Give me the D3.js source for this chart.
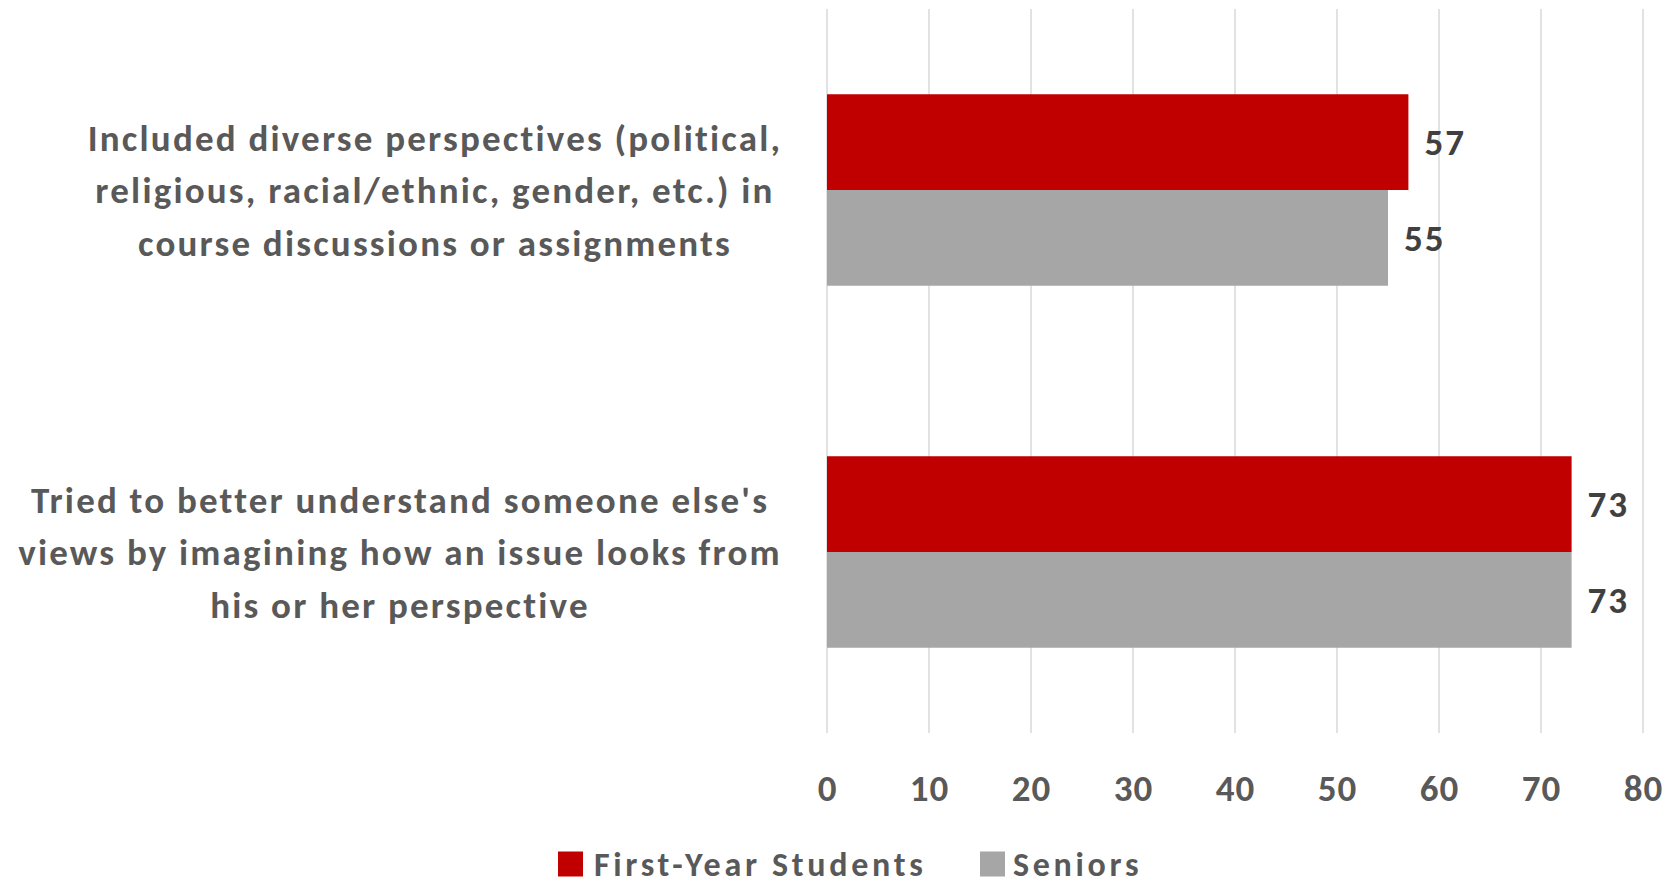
<!DOCTYPE html>
<html>
<head>
<meta charset="utf-8">
<script src="https://cdn.jsdelivr.net/npm/d3@7"></script>
<style>
  html, body { margin: 0; padding: 0; background: #ffffff; }
  svg { display: block; }
  text { font-family: Carlito, Lato, "Open Sans", sans-serif; font-weight: 700; }
</style>
</head>
<body>
<svg id="chart" width="1677" height="879"></svg>
<script>
// Survey items (each label is split into its display lines)
const categories = [
  "Included diverse perspectives (political, religious, racial/ethnic, gender, etc.) in course discussions or assignments",
  "Tried to better understand someone else's views by imagining how an issue looks from his or her perspective"
];
const categoryLines = [
  ["Included diverse perspectives (political,", "religious, racial/ethnic, gender, etc.) in", "course discussions or assignments"],
  ["Tried to better understand someone else's", "views by imagining how an issue looks from", "his or her perspective"]
];
const seriesNames = ["First-Year Students", "Seniors"];
const firstYear = [57, 73];
const seniors = [55, 73];
const tickValues = [0, 10, 20, 30, 40, 50, 60, 70, 80];
const colors = ["#c00000", "#a6a6a6"];

const seriesValues = [firstYear, seniors];
const rows = categories.map((c, i) => ({
  category: c,
  values: seriesNames.map((s, j) => ({ series: s, value: seriesValues[j][i] }))
}));

const svg = d3.select("#chart");

const plot = { left: 827, right: 1643, top: 9, bottom: 733 };

const x = d3.scaleLinear().domain([0, 80]).range([plot.left, plot.right]);
const y0 = d3.scaleBand().domain(categories).range([plot.top, plot.bottom])
  .paddingInner(0.471).paddingOuter(0.2355);
const y1 = d3.scaleBand().domain(seriesNames).range([0, y0.bandwidth()]);
const color = d3.scaleOrdinal().domain(seriesNames).range(colors);

// Vertical gridlines
svg.append("g")
  .selectAll("line")
  .data(tickValues)
  .join("line")
  .attr("x1", d => x(d)).attr("x2", d => x(d))
  .attr("y1", plot.top).attr("y2", plot.bottom)
  .attr("stroke", "#d9d9d9")
  .attr("stroke-width", 1.5);

// X axis tick labels
const xAxis = d3.axisBottom(x).tickValues(tickValues).tickSize(0).tickPadding(0);
const gx = svg.append("g")
  .attr("transform", `translate(0, ${plot.bottom})`)
  .call(xAxis);
gx.select(".domain").remove();
gx.selectAll("text")
  .attr("y", 55)
  .attr("dy", "0.36em")
  .attr("fill", "#595959")
  .style("font-size", "37px")
  .style("letter-spacing", "1px")
  .style("font-family", "Carlito, Lato, 'Open Sans', sans-serif")
  .style("font-weight", 700);

// Bars
const groups = svg.append("g")
  .selectAll("g")
  .data(rows)
  .join("g")
  .attr("transform", d => `translate(0, ${y0(d.category)})`);

groups.selectAll("rect")
  .data(d => d.values)
  .join("rect")
  .attr("x", x(0))
  .attr("y", d => y1(d.series))
  .attr("width", d => x(d.value) - x(0))
  .attr("height", y1.bandwidth())
  .attr("fill", d => color(d.series));

// Value labels
groups.selectAll("text.value")
  .data(d => d.values)
  .join("text")
  .attr("class", "value")
  .attr("x", d => x(d.value) + 16)
  .attr("y", d => y1(d.series) + y1.bandwidth() / 2)
  .attr("dy", "0.36em")
  .attr("fill", "#404040")
  .style("font-size", "37px")
  .style("letter-spacing", "2px")
  .text(d => d.value);

// Category labels, centred line by line to the left of the axis
const labelCenters = [435, 400];
const lineGap = 52.4;
svg.append("g")
  .selectAll("text")
  .data(categories)
  .join("text")
  .attr("text-anchor", "middle")
  .attr("fill", "#595959")
  .style("font-size", "37px")
  .style("letter-spacing", "2.2px")
  .each(function (d, i) {
    const lines = categoryLines[i];
    const cy = y0(d) + y0.bandwidth() / 2;
    d3.select(this).selectAll("tspan")
      .data(lines)
      .join("tspan")
      .attr("x", labelCenters[i])
      .attr("y", (l, k) => cy + (k - (lines.length - 1) / 2) * lineGap)
      .attr("dy", "0.36em")
      .text(l => l);
  });

// Legend
const legendItems = [
  { name: seriesNames[0], sx: 558, tx: 594 },
  { name: seriesNames[1], sx: 980, tx: 1013 }
];
const legend = svg.append("g");
legend.selectAll("rect")
  .data(legendItems)
  .join("rect")
  .attr("x", d => d.sx).attr("y", 851.5)
  .attr("width", 25).attr("height", 25)
  .attr("fill", d => color(d.name));
legend.selectAll("text")
  .data(legendItems)
  .join("text")
  .attr("x", d => d.tx).attr("y", 876)
  .attr("fill", "#595959")
  .style("font-size", "34px")
  .style("letter-spacing", "3.7px")
  .text(d => d.name);
</script>
</body>
</html>
